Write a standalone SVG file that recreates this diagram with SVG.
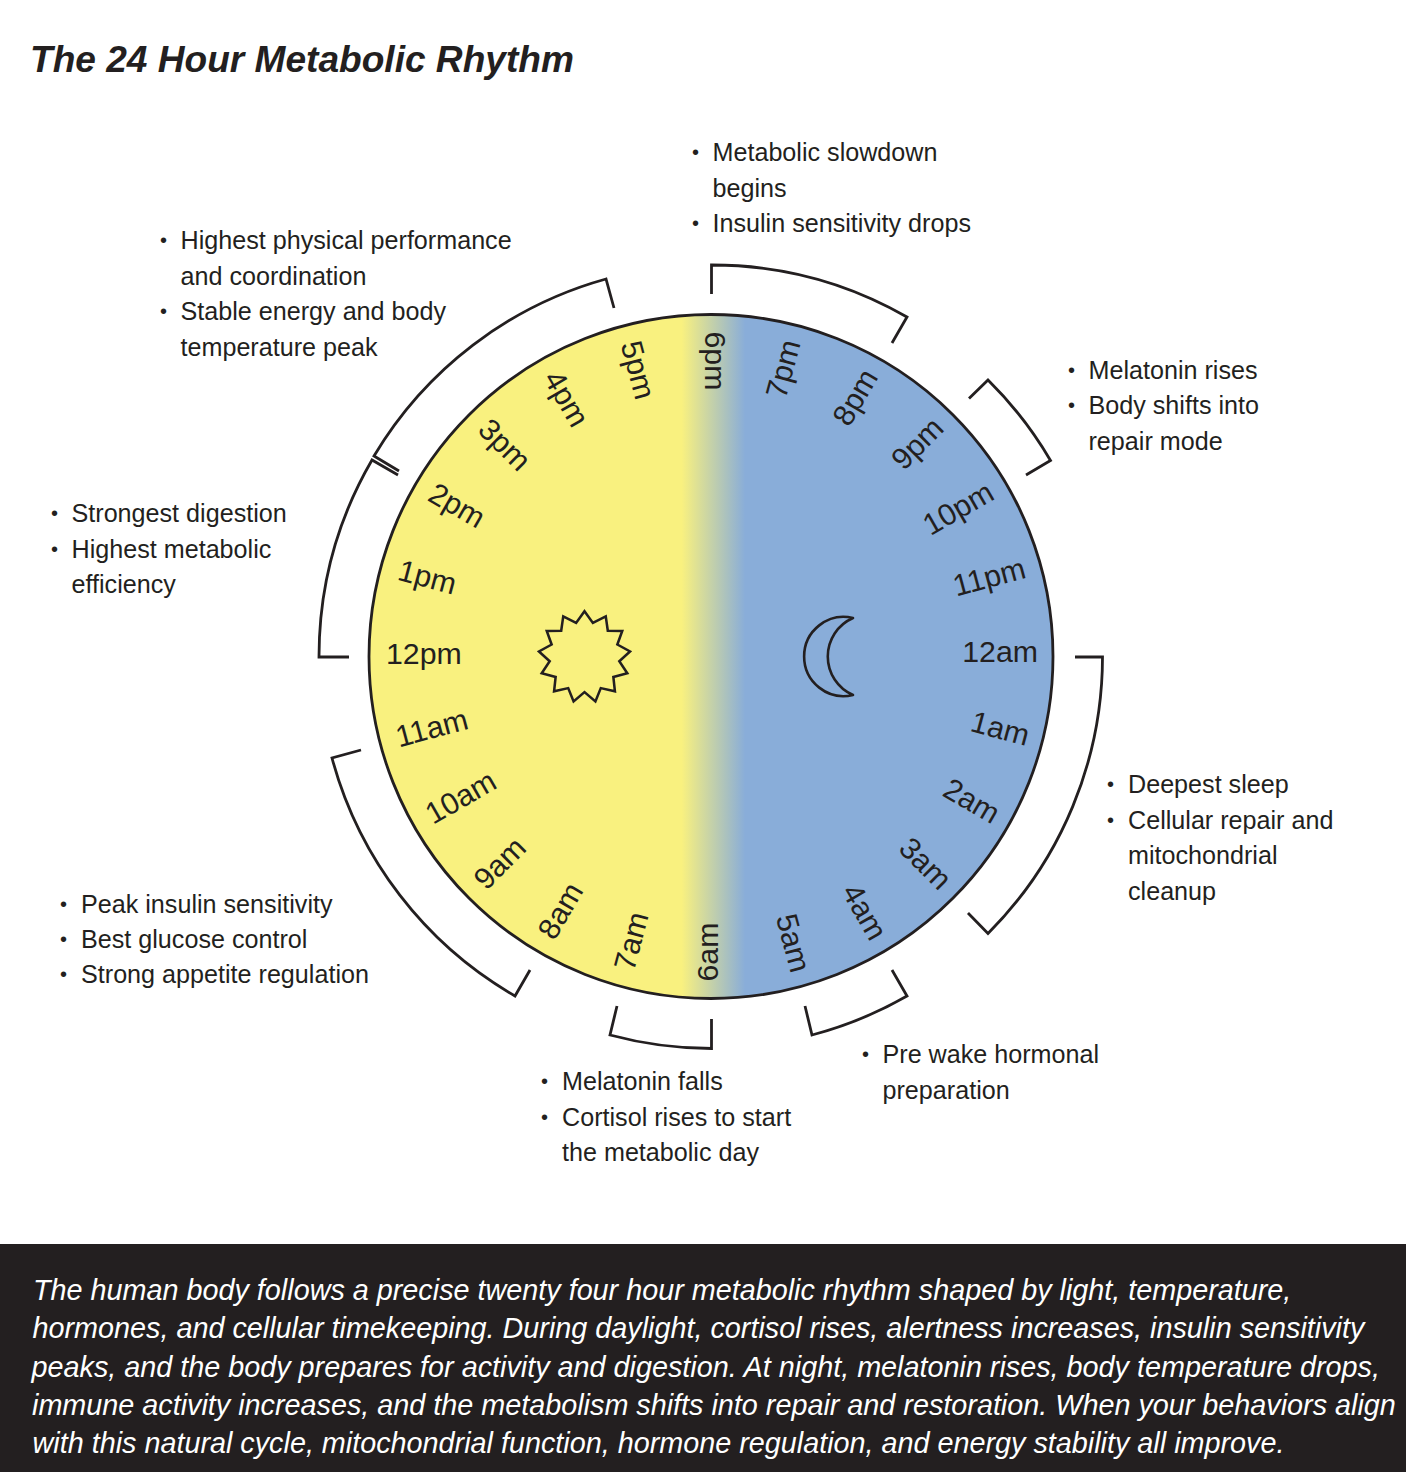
<svg xmlns="http://www.w3.org/2000/svg" width="1406" height="1472" viewBox="0 0 1406 1472">
<style>
text{font-family:"Liberation Sans",Arial,sans-serif;fill:#231f20}
.t{font-size:25.15px}
.b{font-size:20px}
.h{font-size:30.3px}
.ti{font-size:37.1px;font-weight:bold;font-style:italic}
.f{font-size:28.77px;font-style:italic;fill:#fff}
.br{fill:none;stroke:#231f20;stroke-width:2.8}
.ic{fill:none;stroke:#231f20;stroke-width:2.6}
.e{text-anchor:end}
</style>
<defs>
<linearGradient id="g" gradientUnits="userSpaceOnUse" x1="369" y1="0" x2="1053" y2="0">
<stop offset="0.457" stop-color="#f9f17f"/>
<stop offset="0.55" stop-color="#89add9"/>
</linearGradient>
</defs>
<rect width="1406" height="1472" fill="#fff"/>
<text class="ti" x="30" y="72">The 24 Hour Metabolic Rhythm</text>
<g id="clock">
<circle cx="711" cy="656.5" r="342" fill="url(#g)" stroke="#231f20" stroke-width="2.8"/>
<polygon class="ic" id="sun" transform="translate(584.5 657) scale(.975) translate(-584.5 -657)" points="584.5,610 593.1,622 606.3,615.4 608.4,630.1 623.2,630.3 618.2,644.2 631.2,651.3 620.2,661.3 628.4,673.7 614.1,677.5 615.7,692.2 601.2,688.9 595.7,702.6 584.5,693 573.3,702.6 567.8,688.9 553.3,692.2 554.9,677.5 540.6,673.7 548.8,661.3 537.8,651.3 550.8,644.2 545.8,630.3 560.6,630.1 562.7,615.4 575.9,622"/>
<path class="ic" id="moon" stroke-linejoin="round" d="M853 618A39.6 39.6 0 1 0 853 695A42 42 0 0 1 853 618Z"/>
</g>
<g id="hours">
<text class="h e" x="1038" y="662">12am</text>
<text class="h e" x="1038.5" y="661.5" transform="rotate(15 711 656.5)">1am</text>
<text class="h e" x="1038.5" y="661.5" transform="rotate(30 711 656.5)">2am</text>
<text class="h e" x="1038.5" y="661.5" transform="rotate(45 711 656.5)">3am</text>
<text class="h e" x="1038.5" y="661.5" transform="rotate(60 711 656.5)">4am</text>
<text class="h e" x="1038.5" y="661.5" transform="rotate(75 711 656.5)">5am</text>
<text class="h" x="386" y="663.5" transform="rotate(-90 711 656.5)">6am</text>
<text class="h" x="386" y="663.5" transform="rotate(-75 711 656.5)">7am</text>
<text class="h" x="386" y="663.5" transform="rotate(-60 711 656.5)">8am</text>
<text class="h" x="386" y="663.5" transform="rotate(-45 711 656.5)">9am</text>
<text class="h" x="386" y="663.5" transform="rotate(-30 711 656.5)">10am</text>
<text class="h" x="386" y="663.5" transform="rotate(-15 711 656.5)">11am</text>
<text class="h" x="386" y="664">12pm</text>
<text class="h" x="387" y="663.5" transform="rotate(15 711 656.5)">1pm</text>
<text class="h" x="386" y="663" transform="rotate(30 711 656.5)">2pm</text>
<text class="h" x="386" y="663" transform="rotate(45 711 656.5)">3pm</text>
<text class="h" x="386" y="663" transform="rotate(60 711 656.5)">4pm</text>
<text class="h" x="386" y="663" transform="rotate(75 711 656.5)">5pm</text>
<text class="h" x="386" y="663" transform="rotate(90 711 656.5)">6pm</text>
<text class="h e" x="1037" y="662" transform="rotate(-75 711 656.5)">7pm</text>
<text class="h e" x="1037" y="662" transform="rotate(-60 711 656.5)">8pm</text>
<text class="h e" x="1037" y="662" transform="rotate(-45 711 656.5)">9pm</text>
<text class="h e" x="1037" y="662" transform="rotate(-30 711 656.5)">10pm</text>
<text class="h e" x="1037" y="662" transform="rotate(-15 711 656.5)">11pm</text>
</g>
<g id="connectors">
<path class="br" d="M711.5 294V265A392 392 0 0 1 907 317L892 343"/>
<path class="br" d="M969 398.500L988 380A392 392 0 0 1 1050.500 460.500L1026 475"/>
<path class="br" d="M1075 657H1102.500A392 392 0 0 1 988 933.500L968 913"/>
<path class="br" d="M892 970L907 996A392 392 0 0 1 812 1035L805 1006"/>
<path class="br" d="M711.500 1019V1048.500A392 392 0 0 1 610 1035L617 1006"/>
<path class="br" d="M530 970L515 996A392 392 0 0 1 332 758L361 750"/>
<path class="br" d="M349 657H319A392 392 0 0 1 372 460L398 475"/>
<path class="br" d="M399 471L374 456A392 392 0 0 1 606 279L614 308"/>
</g>
<g id="note-evening">
<text class="b" x="692" y="159">•</text><text class="b" x="692" y="229.500">•</text>
<text class="t" x="712.500" y="161.300">Metabolic slowdown</text>
<text class="t" x="712.500" y="196.500">begins</text>
<text class="t" x="712.500" y="232.300">Insulin sensitivity drops</text>
</g>
<g id="note-afternoon">
<text class="b" x="160" y="247">•</text><text class="b" x="160" y="317.500">•</text>
<text class="t" x="180.500" y="249.300">Highest physical performance</text>
<text class="t" x="180.500" y="285.300">and coordination</text>
<text class="t" x="180.500" y="320.300">Stable energy and body</text>
<text class="t" x="180.500" y="356.300">temperature peak</text>
</g>
<g id="note-night">
<text class="b" x="1068" y="377">•</text><text class="b" x="1068" y="412">•</text>
<text class="t" x="1088.500" y="379.300">Melatonin rises</text>
<text class="t" x="1088.500" y="414.300">Body shifts into</text>
<text class="t" x="1088.500" y="450.300">repair mode</text>
</g>
<g id="note-midday">
<text class="b" x="51" y="520">•</text><text class="b" x="51" y="555.500">•</text>
<text class="t" x="71.500" y="522.300">Strongest digestion</text>
<text class="t" x="71.500" y="558.300">Highest metabolic</text>
<text class="t" x="71.500" y="593.300">efficiency</text>
</g>
<g id="note-sleep">
<text class="b" x="1107" y="791">•</text><text class="b" x="1107" y="826.500">•</text>
<text class="t" x="1128" y="793.300">Deepest sleep</text>
<text class="t" x="1128" y="829.300">Cellular repair and</text>
<text class="t" x="1128" y="864.300">mitochondrial</text>
<text class="t" x="1128" y="900.300">cleanup</text>
</g>
<g id="note-morning">
<text class="b" x="60" y="911">•</text><text class="b" x="60" y="946">•</text><text class="b" x="60" y="981">•</text>
<text class="t" x="81" y="913.300">Peak insulin sensitivity</text>
<text class="t" x="81" y="948.300">Best glucose control</text>
<text class="t" x="81" y="983.300">Strong appetite regulation</text>
</g>
<g id="note-prewake">
<text class="b" x="862" y="1061">•</text>
<text class="t" x="882.500" y="1063.300">Pre wake hormonal</text>
<text class="t" x="882.500" y="1099.300">preparation</text>
</g>
<g id="note-dawn">
<text class="b" x="541" y="1088">•</text><text class="b" x="541" y="1123.500">•</text>
<text class="t" x="562" y="1090.300">Melatonin falls</text>
<text class="t" x="562" y="1126.300">Cortisol rises to start</text>
<text class="t" x="562" y="1161.300">the metabolic day</text>
</g>
<g id="footer">
<rect x="0" y="1244" width="1406" height="228" fill="#231f20"/>
<text class="f" x="33" y="1299.500">The human body follows a precise twenty four hour metabolic rhythm shaped by light, temperature,</text>
<text class="f" x="32.500" y="1338">hormones, and cellular timekeeping. During daylight, cortisol rises, alertness increases, insulin sensitivity</text>
<text class="f" x="31.500" y="1376.500">peaks, and the body prepares for activity and digestion. At night, melatonin rises, body temperature drops,</text>
<text class="f" x="32" y="1415">immune activity increases, and the metabolism shifts into repair and restoration. When your behaviors align</text>
<text class="f" x="32.500" y="1453">with this natural cycle, mitochondrial function, hormone regulation, and energy stability all improve.</text>
</g>
</svg>
